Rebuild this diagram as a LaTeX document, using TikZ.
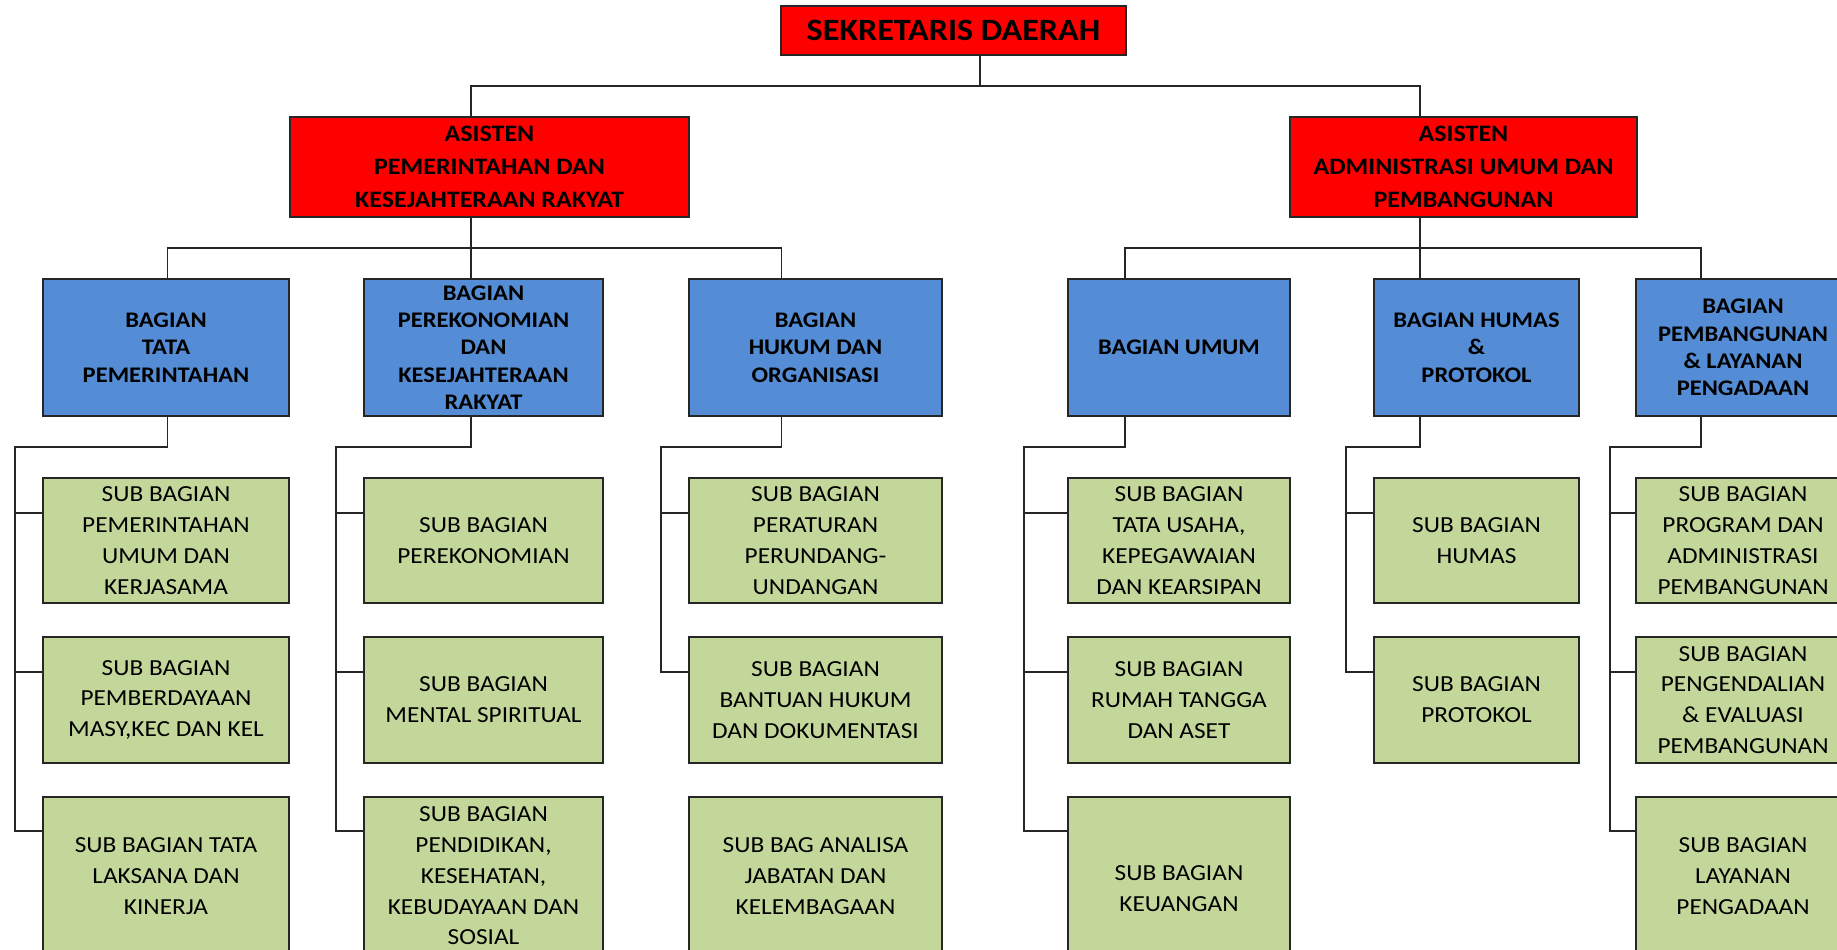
\documentclass[tikz,border=0pt]{standalone}
\usepackage{fontspec}
\setmainfont{Carlito}[FakeStretch=1.1]
\definecolor{kepala}{RGB}{255,0,0}
\definecolor{bagian}{RGB}{84,141,213}
\definecolor{subbag}{RGB}{196,215,155}

\begin{document}
\begin{tikzpicture}[x=1pt,y=1pt,yscale=-1,xscale=1,
  kotak/.style={draw=black!85, line width=1.3pt, anchor=north west, inner sep=0pt, outer sep=0pt, align=center},
  kotakmerah/.style={kotak, fill=kepala, font=\bfseries\fontsize{23.6}{32.8}\selectfont},
  kotakbiru/.style={kotak, fill=bagian, minimum height=137pt, font=\bfseries\fontsize{22.3}{27.3}\selectfont},
  kotakhijau/.style={kotak, fill=subbag, font=\fontsize{23}{30.8}\selectfont},
  garis/.style={line width=1.1pt, black!85}]
\useasboundingbox (0,0) rectangle (1837,950);
\clip (0,0) rectangle (1837,950);

%Shape: Rectangle [id:sekda]
\node [kotakmerah, minimum width=345pt, minimum height=49pt, font=\bfseries\fontsize{31}{34}\selectfont] (sekda) at (781,6) {SEKRETARIS DAERAH};
%Shape: Rectangle [id:asisten1]
\node [kotakmerah, minimum width=399pt, minimum height=100pt] (asisten1) at (290,117) {ASISTEN\\PEMERINTAHAN DAN\\KESEJAHTERAAN RAKYAT};
%Shape: Rectangle [id:asisten2]
\node [kotakmerah, minimum width=347pt, minimum height=100pt] (asisten2) at (1290,117) {ASISTEN\\ADMINISTRASI UMUM DAN\\PEMBANGUNAN};

%Shape: Rectangle [id:bagian1]
\node [kotakbiru, minimum width=246pt] (bagian1) at (43,279) {BAGIAN\\TATA\\PEMERINTAHAN};
%Shape: Rectangle [id:bagian2]
\node [kotakbiru, minimum width=239pt] (bagian2) at (364,279) {BAGIAN\\PEREKONOMIAN\\DAN\\KESEJAHTERAAN\\RAKYAT};
%Shape: Rectangle [id:bagian3]
\node [kotakbiru, minimum width=253pt] (bagian3) at (689,279) {BAGIAN\\HUKUM DAN\\ORGANISASI};
%Shape: Rectangle [id:bagian4]
\node [kotakbiru, minimum width=222pt] (bagian4) at (1068,279) {BAGIAN UMUM};
%Shape: Rectangle [id:bagian5]
\node [kotakbiru, minimum width=205pt] (bagian5) at (1374,279) {BAGIAN HUMAS\\\&\\PROTOKOL};
%Shape: Rectangle [id:bagian6]
\node [kotakbiru, minimum width=214pt] (bagian6) at (1636,279) {BAGIAN\\PEMBANGUNAN\\\& LAYANAN\\PENGADAAN};

%Shape: Rectangle [id:sub11]
\node [kotakhijau, minimum width=246pt, minimum height=125pt] (sub11) at (43,478) {SUB BAGIAN\\PEMERINTAHAN\\UMUM DAN\\KERJASAMA};
%Shape: Rectangle [id:sub12]
\node [kotakhijau, minimum width=246pt, minimum height=126pt] (sub12) at (43,637) {SUB BAGIAN\\PEMBERDAYAAN\\MASY,KEC DAN KEL};
%Shape: Rectangle [id:sub13]
\node [kotakhijau, minimum width=246pt, minimum height=158pt] (sub13) at (43,797) {SUB BAGIAN TATA\\LAKSANA DAN\\KINERJA};

%Shape: Rectangle [id:sub21]
\node [kotakhijau, minimum width=239pt, minimum height=125pt] (sub21) at (364,478) {SUB BAGIAN\\PEREKONOMIAN};
%Shape: Rectangle [id:sub22]
\node [kotakhijau, minimum width=239pt, minimum height=126pt] (sub22) at (364,637) {SUB BAGIAN\\MENTAL SPIRITUAL};
%Shape: Rectangle [id:sub23]
\node [kotakhijau, minimum width=239pt, minimum height=158pt] (sub23) at (364,797) {SUB BAGIAN\\PENDIDIKAN,\\KESEHATAN,\\KEBUDAYAAN DAN\\SOSIAL};

%Shape: Rectangle [id:sub31]
\node [kotakhijau, minimum width=253pt, minimum height=125pt] (sub31) at (689,478) {SUB BAGIAN\\PERATURAN\\PERUNDANG-\\UNDANGAN};
%Shape: Rectangle [id:sub32]
\node [kotakhijau, minimum width=253pt, minimum height=126pt] (sub32) at (689,637) {SUB BAGIAN\\BANTUAN HUKUM\\DAN DOKUMENTASI};
%Shape: Rectangle [id:sub33]
\node [kotakhijau, minimum width=253pt, minimum height=158pt] (sub33) at (689,797) {SUB BAG ANALISA\\JABATAN DAN\\KELEMBAGAAN};

%Shape: Rectangle [id:sub41]
\node [kotakhijau, minimum width=222pt, minimum height=125pt] (sub41) at (1068,478) {SUB BAGIAN\\TATA USAHA,\\KEPEGAWAIAN\\DAN KEARSIPAN};
%Shape: Rectangle [id:sub42]
\node [kotakhijau, minimum width=222pt, minimum height=126pt] (sub42) at (1068,637) {SUB BAGIAN\\RUMAH TANGGA\\DAN ASET};
%Shape: Rectangle [id:sub43]
\node [kotakhijau, minimum width=222pt, minimum height=184pt] (sub43) at (1068,797) {SUB BAGIAN\\KEUANGAN};

%Shape: Rectangle [id:sub51]
\node [kotakhijau, minimum width=205pt, minimum height=125pt] (sub51) at (1374,478) {SUB BAGIAN\\HUMAS};
%Shape: Rectangle [id:sub52]
\node [kotakhijau, minimum width=205pt, minimum height=126pt] (sub52) at (1374,637) {SUB BAGIAN\\PROTOKOL};

%Shape: Rectangle [id:sub61]
\node [kotakhijau, minimum width=214pt, minimum height=125pt] (sub61) at (1636,478) {SUB BAGIAN\\PROGRAM DAN\\ADMINISTRASI\\PEMBANGUNAN};
%Shape: Rectangle [id:sub62]
\node [kotakhijau, minimum width=214pt, minimum height=126pt] (sub62) at (1636,637) {SUB BAGIAN\\PENGENDALIAN\\\& EVALUASI\\PEMBANGUNAN};
%Shape: Rectangle [id:sub63]
\node [kotakhijau, minimum width=214pt, minimum height=158pt] (sub63) at (1636,797) {SUB BAGIAN\\LAYANAN\\PENGADAAN};

%Straight Lines [id:sekda-asisten]
\coordinate (simpul0) at (980,86);
\draw [garis] (sekda.south -| simpul0) -- (simpul0);
\draw [garis] (asisten1.north -| 471,0) |- (simpul0) -| (asisten2.north -| 1420,0);

%Straight Lines [id:asisten1-bagian]
\coordinate (simpul1) at (471,248);
\draw [garis] (asisten1.south -| simpul1) -- (bagian2.north -| simpul1);
\draw [garis] (bagian1.north -| 167.5,0) |- (simpul1) -| (bagian3.north -| 781.5,0);

%Straight Lines [id:asisten2-bagian]
\coordinate (simpul2) at (1420,248);
\draw [garis] (asisten2.south -| simpul2) -- (bagian5.north -| simpul2);
\draw [garis] (bagian4.north -| 1125,0) |- (simpul2) -| (bagian6.north -| 1701,0);

%Straight Lines [id:bagian1-sub]
\coordinate (tiang1) at (15,447);
\draw [garis] (bagian1.south -| 167.5,0) |- (tiang1) |- (sub13.west |- 0,831);
\draw [garis] (tiang1) |- (sub11.west |- 0,513);
\draw [garis] (tiang1) |- (sub12.west |- 0,672);

%Straight Lines [id:bagian2-sub]
\coordinate (tiang2) at (336,447);
\draw [garis] (bagian2.south -| 471,0) |- (tiang2) |- (sub23.west |- 0,831);
\draw [garis] (tiang2) |- (sub21.west |- 0,513);
\draw [garis] (tiang2) |- (sub22.west |- 0,672);

%Straight Lines [id:bagian3-sub]
\coordinate (tiang3) at (661,447);
\draw [garis] (bagian3.south -| 781.5,0) |- (tiang3) |- (sub32.west |- 0,672);
\draw [garis] (tiang3) |- (sub31.west |- 0,513);

%Straight Lines [id:bagian4-sub]
\coordinate (tiang4) at (1024,447);
\draw [garis] (bagian4.south -| 1125,0) |- (tiang4) |- (sub43.west |- 0,831);
\draw [garis] (tiang4) |- (sub41.west |- 0,513);
\draw [garis] (tiang4) |- (sub42.west |- 0,672);

%Straight Lines [id:bagian5-sub]
\coordinate (tiang5) at (1346,447);
\draw [garis] (bagian5.south -| 1420,0) |- (tiang5) |- (sub52.west |- 0,672);
\draw [garis] (tiang5) |- (sub51.west |- 0,513);

%Straight Lines [id:bagian6-sub]
\coordinate (tiang6) at (1610,447);
\draw [garis] (bagian6.south -| 1701,0) |- (tiang6) |- (sub63.west |- 0,831);
\draw [garis] (tiang6) |- (sub61.west |- 0,513);
\draw [garis] (tiang6) |- (sub62.west |- 0,672);

\end{tikzpicture}
\end{document}
